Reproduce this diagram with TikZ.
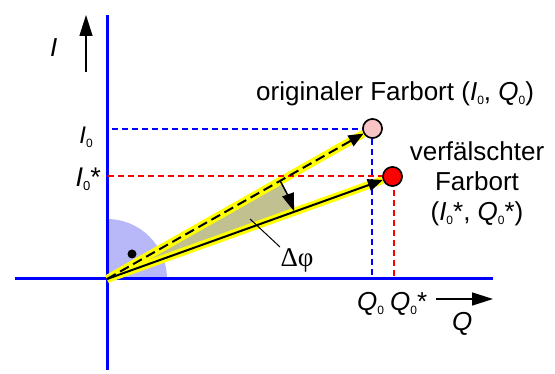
\documentclass[tikz,border=0pt]{standalone}
\usepackage{fontspec}
\setmainfont{Liberation Sans}
\newfontfamily\serifgr{Liberation Serif}
\usetikzlibrary{arrows.meta}
\definecolor{axisblue}{RGB}{0,0,255}
\definecolor{dotpink}{RGB}{248,196,196}
\definecolor{dotred}{RGB}{255,0,0}
\definecolor{wedgecol}{RGB}{192,192,144}
\definecolor{quartcol}{RGB}{184,184,248}
\definecolor{hlyellow}{RGB}{255,255,0}
\newcommand\zsub{\raisebox{-3.3pt}{\fontsize{12}{12}\selectfont 0}}
\newcommand\zsubb{\raisebox{-4pt}{\fontsize{13}{13}\selectfont 0}}
\newcommand\vI{\textit{I}}
\newcommand\vQ{\textit{Q}}
\tikzset{
  axis/.style={axisblue, line width=3pt},
  guideblue/.style={axisblue, line width=2pt, dash pattern=on 6pt off 4pt},
  guidered/.style={dotred, line width=2pt, dash pattern=on 6pt off 4pt},
  band/.style={hlyellow, line width=8pt},
  vecarrow/.style={black, line width=2pt, -{Triangle[length=15pt,width=12pt]}},
  dirarrow/.style={black, line width=1.5pt, -{Triangle[length=21pt,width=13pt]}},
  dot/.style={circle, draw=black, line width=1.5pt, minimum size=19pt, inner sep=0pt},
  lbl/.style={inner sep=0pt, font=\fontsize{26}{30}\selectfont},
}
\begin{document}
\begin{tikzpicture}[x=1pt,y=-1pt]
\useasboundingbox (0,0) rectangle (555,374);
\coordinate (O) at (107,279);
% quarter circle
\fill[quartcol] (O) -- ++(60,0) arc[start angle=0, end angle=-90, radius=60] -- cycle;
% wedge
\fill[wedgecol] (O) -- ++(-29.5:199) arc[start angle=-29.5, end angle=-19.7, radius=199] -- cycle;
% axes
\coordinate (yb) at (107,370);
\coordinate (yt) at (107,15);
\coordinate (xl) at (15,279);
\coordinate (xr) at (493,279);
\draw[axis] (yb) -- (yt);
\draw[axis] (xl) -- (xr);
% dots
\node[dot, fill=dotpink] (P) at (372.5,128.5) {};
\node[dot, fill=dotred] (R) at (392.5,176.5) {};
% yellow bands
\draw[band] (O) -- (P);
\draw[band] (O) -- (R);
% guide lines
\coordinate (gI0) at (112,129);
\coordinate (gQ0) at (372,275);
\coordinate (gI0s) at (108,176);
\coordinate (gQ0s) at (393.5,279);
\draw[guideblue] (gI0) -| (gQ0);
\draw[guidered] (gI0s) -| (gQ0s);
% right angle dot
\fill (132,254) circle[radius=4.5];
% vectors
\draw[vecarrow, dash pattern=on 10pt off 5pt] (O) -- (P);
\draw[vecarrow] (O) -- (R);
% angle arc arrow
\draw[black, line width=1.5pt, -{Triangle[length=18pt,width=12pt]}] (O) ++(-29.5:199) arc[start angle=-29.5, end angle=-19.9, radius=199];
% redraw dots on top
\node[dot, fill=dotpink] at (P) {};
\node[dot, fill=dotred] at (R) {};
% delta phi
\node[inner sep=0pt, anchor=base, font=\serifgr\fontsize{27}{27}\selectfont] (dphi) at (297,267) {Δφ};
\coordinate (lw) at (250,219);
\coordinate (ld) at (280,247);
\draw[line width=1pt] (lw) -- (ld);
% direction arrows
\coordinate (Ia) at (86,72);
\coordinate (Ib) at (86,15);
\draw[dirarrow] (Ia) -- (Ib);
\coordinate (Qa) at (436,299);
\coordinate (Qb) at (493,299);
\draw[dirarrow] (Qa) -- (Qb);
% labels
\node[lbl, anchor=base west] (lI) at (50,57) {\vI};
\node[lbl, anchor=base east, font=\fontsize{24}{28}\selectfont] (lI0) at (93,144) {\vI\zsub};
\node[lbl, anchor=base east, font=\fontsize{27}{32}\selectfont] (lI0s) at (101,187) {\vI\zsubb*};
\node[lbl, anchor=base west] (lQ0) at (357,311) {\vQ\zsub};
\node[lbl, anchor=base west] (lQ0s) at (390,311) {\vQ\zsub*};
\node[lbl, anchor=base west] (lQ) at (452,331) {\vQ};
\node[lbl, anchor=base west] (orig) at (256,101) {originaler Farbort (\vI\zsub, \vQ\zsub)};
\node[lbl, anchor=base] (v1) at (477,161) {verfälschter};
\node[lbl, anchor=base] (v2) at (477,191) {Farbort};
\node[lbl, anchor=base] (v3) at (477,221) {(\vI\zsub*, \vQ\zsub*)};
\end{tikzpicture}
\end{document}
